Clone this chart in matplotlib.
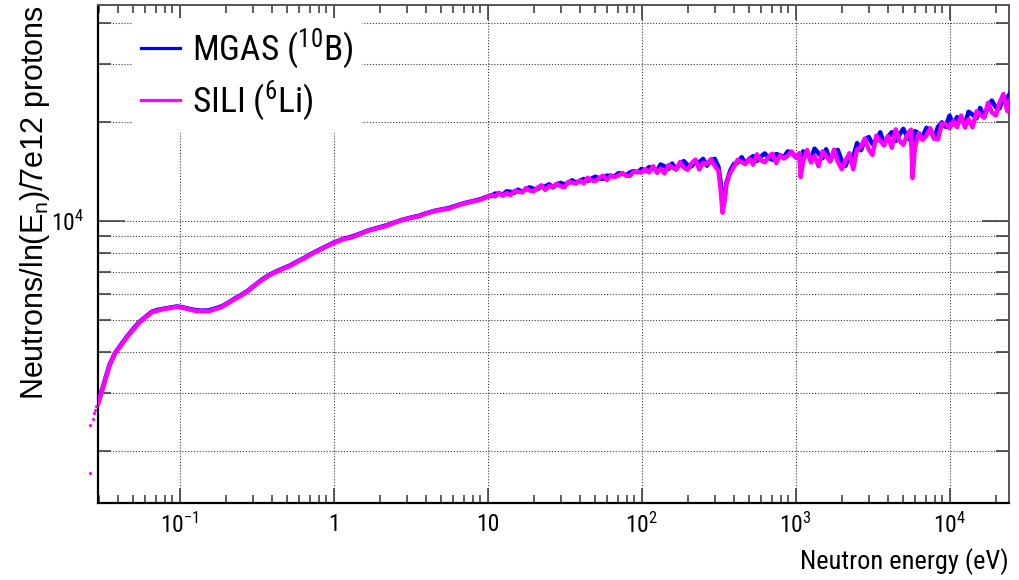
import matplotlib
matplotlib.use("Agg")
import matplotlib.pyplot as plt
from matplotlib import font_manager as fm
from matplotlib.lines import Line2D
from matplotlib.ticker import FixedLocator, FixedFormatter, NullFormatter

# ---------------------------------------------------------------- data
# neutron energy of each bin centre (eV)
energy_ev = [
    0.0296, 0.032, 0.035, 0.038, 0.042, 0.046, 0.050, 0.055, 0.060, 0.066,
    0.072, 0.080, 0.088, 0.096, 0.105, 0.115, 0.127, 0.140, 0.155, 0.170,
    0.187, 0.205, 0.225, 0.25, 0.28, 0.31, 0.34, 0.38, 0.42, 0.47,
    0.52, 0.58, 0.65, 0.72, 0.80, 0.90, 1.0, 1.15, 1.3, 1.5,
    1.7, 1.9, 2.2, 2.5, 2.8, 3.2, 3.6, 4.0, 4.5, 5.0,
    5.6, 6.3, 7.1, 8.0, 9.0, 10.0,
    10.6, 11.2, 11.9, 12.6, 13.3, 14.1, 15.0, 15.8, 16.8, 17.8,
    18.8, 20.0, 21.1, 22.4, 23.7, 25.1, 26.6, 28.2, 29.9, 31.6,
    33.5, 35.5, 37.6, 39.8, 42.2, 44.7, 47.3, 50.1, 53.1, 56.2,
    59.6, 63.1, 66.8, 70.8, 75.0, 79.4, 84.1, 89.1, 94.4, 100.0,
    106, 112, 119, 126, 133, 141, 150, 158, 168, 178,
    188, 200, 211, 224, 237, 251, 266, 282, 299, 316,
    326, 336, 346, 355, 376, 398, 422, 447, 473, 501,
    531, 562, 596, 631, 668, 708, 750, 794, 841, 891,
    944, 1000,
    1060, 1080, 1120, 1190, 1260, 1330, 1410, 1500, 1580, 1680,
    1780, 1880, 2000, 2110, 2240, 2370, 2510, 2660, 2820, 2990,
    3160, 3350, 3550, 3760, 3980, 4220, 4470, 4730, 5010, 5310,
    5620, 5750, 5960, 6310, 6680, 7080, 7500, 7940, 8410, 8910,
    9440, 10000,
    10600, 11200, 11900, 12600, 13300, 14100, 15000, 15800, 16800, 17800,
    18800, 20000, 21100, 22400, 23700, 25100,
]

# MGAS (10B) detector: neutrons / ln(En) / 7e12 protons
mgas_counts = [
    2800, 3160, 3640, 3960, 4230, 4480, 4700, 4940, 5110, 5300,
    5370, 5420, 5460, 5500, 5470, 5410, 5360, 5340, 5350, 5420,
    5500, 5630, 5790, 5950, 6160, 6400, 6620, 6850, 7010, 7180,
    7320, 7530, 7740, 7960, 8160, 8390, 8590, 8820, 8950, 9170,
    9380, 9520, 9700, 9910, 10090, 10250, 10380, 10560, 10730, 10840,
    10950, 11150, 11340, 11490, 11650, 11870,
    11920, 12120, 12080, 12020, 12310, 12270, 12190, 12450, 12240, 12510,
    12660, 12510, 12490, 12750, 12730, 12930, 12650, 12950, 13060, 12920,
    13050, 13300, 13040, 13260, 13420, 13230, 13450, 13640, 13480, 13430,
    13740, 13730, 13670, 13970, 13960, 13750, 14050, 14180, 14050, 14410,
    14190, 14590, 14430, 14220, 14850, 14670, 14410, 14950, 14370, 14920,
    15210, 14760, 14650, 15180, 15060, 15450, 14730, 15320, 15450, 14600,
    13200, 11200, 11600, 13000, 14200, 14900, 15070, 15630, 14970, 15450,
    15740, 15230, 15690, 16050, 15560, 15350, 15980, 15840, 15650, 16280,
    16170, 15630,
    15670, 14500, 16280, 15940, 15480, 16590, 16060, 15520, 16520, 15230,
    16110, 16450, 15200, 14700, 15680, 15670, 17250, 16410, 17630, 18000,
    17130, 17540, 18610, 17110, 18030, 18620, 17500, 18310, 19060, 18020,
    17530, 16400, 18750, 18490, 17980, 19190, 18930, 17820, 19310, 19950,
    19330, 20910,
    19640, 20690, 20290, 19780, 21480, 21060, 20530, 22060, 20690, 22370,
    23230, 22150, 21990, 23720, 23560, 24830,
]

# SILI (6Li) detector: neutrons / ln(En) / 7e12 protons
sili_counts = [
    2790, 3140, 3620, 3950, 4210, 4460, 4670, 4920, 5090, 5280,
    5340, 5410, 5440, 5490, 5450, 5390, 5330, 5330, 5320, 5390,
    5470, 5610, 5770, 5920, 6140, 6390, 6590, 6830, 6980, 7160,
    7290, 7510, 7710, 7940, 8130, 8370, 8560, 8810, 8900, 9150,
    9360, 9490, 9660, 9890, 10070, 10230, 10340, 10530, 10710, 10810,
    10900, 11120, 11320, 11460, 11600, 11840,
    12000, 11880, 12180, 11930, 12140, 11980, 12360, 12280, 12220, 12590,
    12370, 12320, 12620, 12840, 12430, 12760, 12720, 12980, 12740, 12660,
    13170, 13080, 13000, 13280, 13020, 13540, 13290, 13220, 13520, 13720,
    13320, 13730, 13600, 13750, 13990, 13740, 13710, 14130, 14120, 14040,
    14390, 14050, 14670, 14010, 14430, 13950, 14800, 14560, 14330, 15120,
    14520, 14310, 14960, 15370, 14350, 15040, 14910, 15410, 14710, 14200,
    12500, 10600, 11500, 12900, 14000, 14600, 15360, 15110, 14890, 15490,
    14830, 15940, 15310, 15090, 15680, 16020, 15000, 15840, 15480, 15790,
    16270, 15610,
    16080, 13600, 15180, 16430, 15060, 15750, 14680, 16280, 15770, 15160,
    16490, 15160, 14370, 15270, 16070, 14370, 16490, 16820, 17820, 16490,
    15880, 18170, 17520, 16960, 18130, 16700, 18990, 17560, 17040, 18260,
    18950, 13500, 16710, 18510, 17640, 18190, 19140, 17790, 17700, 19780,
    19690, 19150,
    20150, 19290, 20920, 19240, 20400, 19260, 21550, 21050, 20610, 22880,
    21410, 20930, 22860, 24320, 21590, 23710,
]

# SILI bins below the lower edge of the energy axis
sili_under_ev = [0.0261, 0.0264, 0.0274, 0.0278, 0.0282, 0.0289]
sili_under_counts = [1710, 2400, 2500, 2610, 2660, 2740]

series_names = ["MGAS ($^{10}$B)", "SILI ($^{6}$Li)"]
x_major = [0.1, 1, 10, 100, 1000, 10000]
x_major_labels = ["$10^{-1}$", "1", "10", "$10^{2}$", "$10^{3}$", "$10^{4}$"]
y_major = [1e4]
y_major_labels = ["$10^{4}$"]
y_minor = [2000, 3000, 4000, 5000, 6000, 7000, 8000, 9000, 20000, 30000, 40000]


# ---------------------------------------------------------------- fonts
def _weight(w):
    if isinstance(w, str):
        return fm.weight_dict.get(w.lower(), 400)
    return int(w)


def narrow_sans():
    """Regular-weight condensed sans face, or plain Liberation Sans."""
    rank = ["noto sans extracondensed", "liberation sans narrow",
            "noto sans condensed", "noto sans semicondensed",
            "open sans condensed", "roboto condensed", "dejavu sans condensed"]
    found = []
    for f in fm.fontManager.ttflist:
        low = f.name.lower()
        if f.style != "normal":
            continue
        if "mono" in low or "cjk" in low or "serif" in low:
            continue
        narrow = (f.stretch in ("condensed", "semi-condensed", "extra-condensed",
                                "ultra-condensed")
                  or "narrow" in low or "condensed" in low)
        if not narrow:
            continue
        r = next((i for i, n in enumerate(rank) if low.startswith(n)), len(rank))
        found.append((abs(_weight(f.weight) - 400), r, f.fname))
    if found:
        found.sort()
        return fm.FontProperties(fname=found[0][2])
    return fm.FontProperties(family="Liberation Sans")


NARROW = narrow_sans()
plt.rcParams["font.family"] = ["Liberation Sans", "DejaVu Sans"]
plt.rcParams["mathtext.default"] = "regular"


def sized(fp, size):
    p = fp.copy()
    p.set_size(size)
    return p


# ---------------------------------------------------------------- figure
fig = plt.figure(figsize=(10.2, 5.8), dpi=100, facecolor="white")
ax = fig.add_axes([0.0961, 0.1328, 0.8931, 0.8578])
ax.set_xscale("log")
ax.set_yscale("log")
ax.set_xlim(0.02957, 24330)
ax.set_ylim(1390, 45200)

BLUE = "#0000ff"
MAGENTA = "#ff00ff"
ax.plot(energy_ev, mgas_counts, color=BLUE, lw=3.2, zorder=3)
ax.plot(energy_ev, sili_counts, color=MAGENTA, lw=3.2, zorder=4)
ax.scatter(sili_under_ev, sili_under_counts, s=5, color=MAGENTA,
           linewidths=0, clip_on=False, zorder=4)

# ticks
ax.xaxis.set_major_locator(FixedLocator(x_major))
ax.xaxis.set_major_formatter(FixedFormatter(x_major_labels))
x_minor = [k * 10.0 ** d for d in range(-2, 5) for k in range(2, 10)]
ax.xaxis.set_minor_locator(FixedLocator(x_minor))
ax.xaxis.set_minor_formatter(NullFormatter())
ax.yaxis.set_major_locator(FixedLocator(y_major))
ax.yaxis.set_major_formatter(FixedFormatter(y_major_labels))
ax.yaxis.set_minor_locator(FixedLocator(y_minor))
ax.yaxis.set_minor_formatter(NullFormatter())

ax.tick_params(which="both", direction="in", top=True, right=True,
               color="#333333", width=1.1, labelsize=17)
ax.tick_params(axis="x", which="major", length=11, pad=7)
ax.tick_params(axis="x", which="minor", length=6)
ax.tick_params(axis="y", which="major", length=19.5, pad=10)
ax.tick_params(axis="y", which="minor", length=9.5)
tick_font = sized(NARROW, 17)
for lbl in ax.get_xticklabels() + ax.get_yticklabels():
    lbl.set_fontproperties(tick_font)

grid_style = dict(linestyle=(0, (1, 1.6)), color="#3a3a3a", linewidth=0.8)
ax.grid(True, which="major", axis="x", **grid_style)
ax.grid(True, which="both", axis="y", **grid_style)
ax.set_axisbelow(True)

for side in ("left", "bottom"):
    ax.spines[side].set_color("black")
    ax.spines[side].set_linewidth(1.6)
for side in ("top", "right"):
    ax.spines[side].set_color("#555555")
    ax.spines[side].set_linewidth(1.4)

# labels
ax.set_xlabel("Neutron energy (eV)", fontproperties=sized(NARROW, 19), loc="right")
ax.xaxis.set_label_coords(1.0, -0.09)
ax.set_ylabel("Neutrons/ln(E$_{n}$)/7e12 protons", fontsize=22,
              family="Liberation Sans", loc="top")
ax.yaxis.set_label_coords(-0.051, 1.0)

# legend
handles = [Line2D([], [], color=BLUE, lw=2.3),
           Line2D([], [], color=MAGENTA, lw=2.3)]
leg = ax.legend(handles, series_names, loc="upper left",
                bbox_to_anchor=(0.037, 0.975), prop=sized(NARROW, 25.5),
                frameon=True, fancybox=False, edgecolor="none",
                facecolor="white", framealpha=1.0, handlelength=1.1,
                handletextpad=0.35, borderpad=0.25, labelspacing=0.2,
                borderaxespad=0.0)
leg.set_zorder(5)

fig.savefig("out.png", dpi=100, facecolor="white")
